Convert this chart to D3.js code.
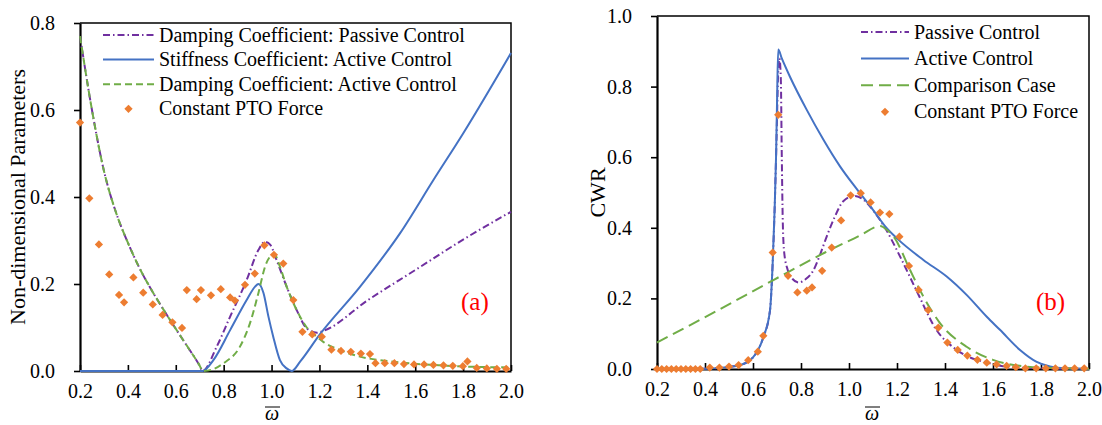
<!DOCTYPE html>
<html>
<head>
<meta charset="utf-8">
<script src="https://cdn.jsdelivr.net/npm/d3@7"></script>
<style>
  body { margin: 0; background: #fff; }
</style>
</head>
<body>
<div id="chart"></div>
<script>
// ---- data ----
var omegaTicks = [0.2, 0.4, 0.6, 0.8, 1.0, 1.2, 1.4, 1.6, 1.8, 2.0];
var yTicksA = [0, 0.2, 0.4, 0.6, 0.8];
var yTicksB = [0, 0.2, 0.4, 0.6, 0.8, 1.0];

// panel (a)
var dampPassiveA = [[0.2, 0.77], [0.25, 0.60], [0.3, 0.46], [0.35, 0.365], [0.4, 0.295], [0.45, 0.235],
  [0.5, 0.185], [0.55, 0.14], [0.6, 0.097], [0.65, 0.055], [0.7, 0.012], [0.712, 0], [0.771, 0.056],
  [0.827, 0.125], [0.896, 0.209], [0.945, 0.278], [0.973, 0.297], [0.995, 0.29], [1.021, 0.255],
  [1.063, 0.194], [1.105, 0.14], [1.147, 0.098], [1.19, 0.088], [1.22, 0.093], [1.4, 0.162],
  [1.6, 0.232], [1.8, 0.302], [2.0, 0.366]];

var stiffActiveA = [[0.2, 0], [0.712, 0], [0.757, 0.025], [0.827, 0.094], [0.896, 0.163], [0.931, 0.194],
  [0.945, 0.2], [0.966, 0.18], [0.987, 0.125], [1.007, 0.079], [1.035, 0.025], [1.063, 0.006],
  [1.084, 0], [1.12, 0.022], [1.2, 0.083], [1.37, 0.194], [1.537, 0.317], [1.676, 0.439],
  [1.8, 0.546], [2.0, 0.731]];

var dampActiveA = [[0.2, 0.77], [0.25, 0.60], [0.3, 0.46], [0.35, 0.365], [0.4, 0.295], [0.45, 0.235],
  [0.5, 0.185], [0.55, 0.14], [0.6, 0.097], [0.65, 0.055], [0.7, 0.012], [0.712, 0], [0.75, 0.003],
  [0.8, 0.018], [0.868, 0.056], [0.91, 0.11], [0.945, 0.179], [0.973, 0.24], [1.0, 0.266],
  [1.012, 0.268], [1.035, 0.24], [1.063, 0.194], [1.105, 0.14], [1.147, 0.1], [1.19, 0.078],
  [1.216, 0.067], [1.286, 0.048], [1.37, 0.033], [1.5, 0.022], [1.7, 0.013], [2.0, 0.008]];

var ptoA = [[0.2, 0.571], [0.239, 0.397], [0.279, 0.291], [0.322, 0.222], [0.363, 0.175], [0.384, 0.158],
  [0.423, 0.215], [0.464, 0.18], [0.504, 0.153], [0.545, 0.129], [0.586, 0.112], [0.626, 0.099],
  [0.646, 0.186], [0.687, 0.165], [0.705, 0.186], [0.747, 0.174], [0.788, 0.188], [0.827, 0.169],
  [0.847, 0.162], [0.889, 0.198], [0.93, 0.224], [0.97, 0.289], [1.01, 0.267], [1.049, 0.247],
  [1.091, 0.163], [1.129, 0.09], [1.17, 0.084], [1.21, 0.079], [1.25, 0.049], [1.29, 0.046],
  [1.331, 0.044], [1.373, 0.04], [1.411, 0.039], [1.434, 0.018], [1.473, 0.018], [1.513, 0.018],
  [1.553, 0.016], [1.595, 0.015], [1.637, 0.015], [1.676, 0.014], [1.718, 0.013], [1.757, 0.012],
  [1.799, 0.011], [1.818, 0.022], [1.857, 0.007], [1.899, 0.006], [1.941, 0.005], [1.98, 0.005]];

// panel (b)
var passiveB = [[0.2, 0], [0.4, 0.001], [0.5, 0.006], [0.546, 0.011], [0.6, 0.033], [0.643, 0.09],
  [0.671, 0.167], [0.682, 0.3], [0.69, 0.45], [0.698, 0.65], [0.704, 0.82], [0.71, 0.88],
  [0.716, 0.82], [0.72, 0.6], [0.724, 0.42], [0.73, 0.33], [0.745, 0.28], [0.765, 0.255],
  [0.79, 0.245], [0.82, 0.255], [0.852, 0.28], [0.88, 0.325], [0.907, 0.375], [0.94, 0.43],
  [0.976, 0.475], [1.02, 0.49], [1.06, 0.48], [1.1, 0.45], [1.15, 0.4], [1.2125, 0.319],
  [1.28, 0.224], [1.365, 0.11], [1.449, 0.054], [1.5875, 0.016], [1.68, 0.005], [2.0, 0]];

var activeB = [[0.2, 0], [0.4, 0.001], [0.5, 0.006], [0.546, 0.011], [0.6, 0.033], [0.643, 0.09],
  [0.671, 0.167], [0.682, 0.3], [0.69, 0.45], [0.696, 0.6], [0.7, 0.75], [0.705, 0.905],
  [0.72, 0.88], [0.754, 0.828], [0.824, 0.734], [0.893, 0.65], [0.9625, 0.574], [1.032, 0.51],
  [1.1, 0.451], [1.15, 0.405], [1.2, 0.37], [1.31, 0.309], [1.407, 0.262], [1.49, 0.21],
  [1.574, 0.148], [1.629, 0.111], [1.7125, 0.054], [1.78, 0.021], [1.8375, 0.007], [1.9, 0.002],
  [2.0, 0.001]];

var comparisonB = [[0.2, 0.075], [0.45, 0.165], [0.685, 0.252], [0.9, 0.33], [1.046, 0.378], [1.13, 0.405],
  [1.16, 0.393], [1.19, 0.371], [1.254, 0.281], [1.31, 0.205], [1.379, 0.13], [1.49, 0.063],
  [1.6, 0.026], [1.71, 0.009], [1.85, 0.003], [2.0, 0.001]];

var ptoB = [[0.2, 0], [0.22, 0], [0.24, 0], [0.26, 0], [0.28, 0], [0.3, 0], [0.32, 0], [0.34, 0],
  [0.36, 0], [0.38, 0], [0.42, 0.004], [0.46, 0.004], [0.5, 0.007], [0.54, 0.011], [0.58, 0.025],
  [0.62, 0.049], [0.643, 0.094], [0.682, 0.33], [0.705, 0.72], [0.746, 0.264], [0.785, 0.217],
  [0.824, 0.222], [0.846, 0.231], [0.888, 0.278], [0.928, 0.344], [0.967, 0.421], [1.007, 0.492],
  [1.049, 0.498], [1.09, 0.472], [1.129, 0.443], [1.168, 0.439], [1.21, 0.375], [1.25, 0.292],
  [1.29, 0.224], [1.33, 0.167], [1.372, 0.117], [1.41, 0.075], [1.453, 0.054], [1.493, 0.038],
  [1.535, 0.026], [1.574, 0.018], [1.615, 0.013], [1.657, 0.009], [1.695, 0.005], [1.735, 0.002],
  [1.78, 0.002], [1.82, 0.002], [1.86, 0.002], [1.9, 0.002], [1.94, 0.002], [1.98, 0.002]];

// ---- styles ----
var purple = "#7030A0", blue = "#4472C4", green = "#70AD47", orange = "#ED7D31";
var dashDot = "7,3,1.5,3";
var serif = "'Liberation Serif', monospace";

var svg = d3.select("#chart").append("svg")
  .attr("width", 1102)
  .attr("height", 425);

var diamond = d3.symbol().type(d3.symbolSquare).size(34);

function drawPanel(p) {
  var g = svg.append("g");

  var x = d3.scaleLinear().domain([0.2, 2.0]).range([p.left, p.right]);
  var y = d3.scaleLinear().domain([0, p.ymax]).range([p.bottom, p.top]);

  // frame top + right
  g.append("path")
    .attr("d", `M${p.left},${p.top}H${p.right}V${p.bottom}`)
    .attr("fill", "none")
    .attr("stroke", "#000")
    .attr("stroke-width", 1.5);

  var xAxis = g.append("g")
    .attr("transform", `translate(0,${p.bottom})`)
    .call(d3.axisBottom(x).tickValues(omegaTicks).tickFormat(d3.format(".1f"))
      .tickSizeInner(-6).tickSizeOuter(0).tickPadding(13));

  var yAxis = g.append("g")
    .attr("transform", `translate(${p.left},0)`)
    .call(d3.axisLeft(y).tickValues(p.yTicks).tickFormat(d3.format(".1f"))
      .tickSizeInner(6).tickSizeOuter(0).tickPadding(19));

  [xAxis, yAxis].forEach(function(ax) {
    ax.select(".domain").attr("stroke-width", 2.2);
    ax.selectAll(".tick line").attr("stroke-width", 1.6);
    ax.selectAll("text")
      .style("font-family", serif)
      .style("font-size", "20px")
      .attr("fill", "#000");
  });

  var line = d3.line()
    .x(d => x(d[0]))
    .y(d => y(d[1]))
    .curve(d3.curveMonotoneX);

  p.series.forEach(function(s) {
    g.append("path")
      .datum(s.data)
      .attr("d", line)
      .attr("fill", "none")
      .attr("stroke", s.color)
      .attr("stroke-width", 2)
      .attr("stroke-dasharray", s.dash || null);
  });

  g.selectAll(".pto")
    .data(p.points)
    .enter()
    .append("path")
    .attr("class", "pto")
    .attr("d", diamond)
    .attr("transform", d => `translate(${x(d[0])},${y(d[1])}) rotate(45)`)
    .attr("fill", orange);

  // legend
  var legend = g.append("g");
  p.series.concat([{ label: p.pointLabel, marker: true }]).forEach(function(s, i) {
    var ly = p.legend.y + i * p.legend.step;
    if (s.marker) {
      legend.append("path")
        .attr("d", diamond)
        .attr("transform", `translate(${(p.legend.x0 + p.legend.x1) / 2},${ly}) rotate(45)`)
        .attr("fill", orange);
    } else {
      legend.append("line")
        .attr("x1", p.legend.x0).attr("x2", p.legend.x1)
        .attr("y1", ly).attr("y2", ly)
        .attr("stroke", s.color)
        .attr("stroke-width", 2)
        .attr("stroke-dasharray", s.dash || null);
    }
    legend.append("text")
      .attr("x", p.legend.x1 + 5)
      .attr("y", ly + 6.5)
      .style("font-family", serif)
      .style("font-size", "20px")
      .text(s.label);
  });

  // axis titles
  g.append("text")
    .attr("transform", `translate(${p.yTitleX},${(p.top + p.bottom) / 2}) rotate(-90)`)
    .attr("text-anchor", "middle")
    .style("font-family", serif)
    .style("font-size", "22px")
    .text(p.yTitle);

  g.append("text")
    .attr("x", p.omegaX)
    .attr("y", 420)
    .attr("text-anchor", "middle")
    .style("font-family", serif)
    .style("font-size", "20px")
    .style("font-style", "italic")
    .text("ω");

  // bar over omega
  g.append("line")
    .attr("x1", p.omegaX - 7).attr("x2", p.omegaX + 8)
    .attr("y1", 407).attr("y2", 407)
    .attr("stroke", "#000")
    .attr("stroke-width", 1);

  g.append("text")
    .attr("x", p.tag.x)
    .attr("y", p.tag.y)
    .style("font-family", serif)
    .style("font-size", "25px")
    .style("fill", "#FF0000")
    .text(p.tag.text);
}

drawPanel({
  left: 80, right: 511, top: 23, bottom: 371, ymax: 0.8, yTicks: yTicksA,
  series: [
    { label: "Damping Coefficient: Passive Control", data: dampPassiveA, color: purple, dash: dashDot },
    { label: "Stiffness Coefficient: Active Control", data: stiffActiveA, color: blue },
    { label: "Damping Coefficient: Active Control", data: dampActiveA, color: green, dash: "7,4" }
  ],
  points: ptoA,
  pointLabel: "Constant PTO Force",
  legend: { x0: 103, x1: 154, y: 35, step: 24.6 },
  yTitle: "Non-dimensional Parameters", yTitleX: 25,
  omegaX: 272,
  tag: { text: "(a)", x: 461, y: 310 }
});

drawPanel({
  left: 657, right: 1089, top: 16, bottom: 369, ymax: 1.0, yTicks: yTicksB,
  series: [
    { label: "Passive Control", data: passiveB, color: purple, dash: dashDot },
    { label: "Active Control", data: activeB, color: blue },
    { label: "Comparison Case", data: comparisonB, color: green, dash: "12,6" }
  ],
  points: ptoB,
  pointLabel: "Constant PTO Force",
  legend: { x0: 861, x1: 909, y: 32, step: 26.6 },
  yTitle: "CWR", yTitleX: 605,
  omegaX: 872,
  tag: { text: "(b)", x: 1036, y: 310 }
});
</script>
</body>
</html>
